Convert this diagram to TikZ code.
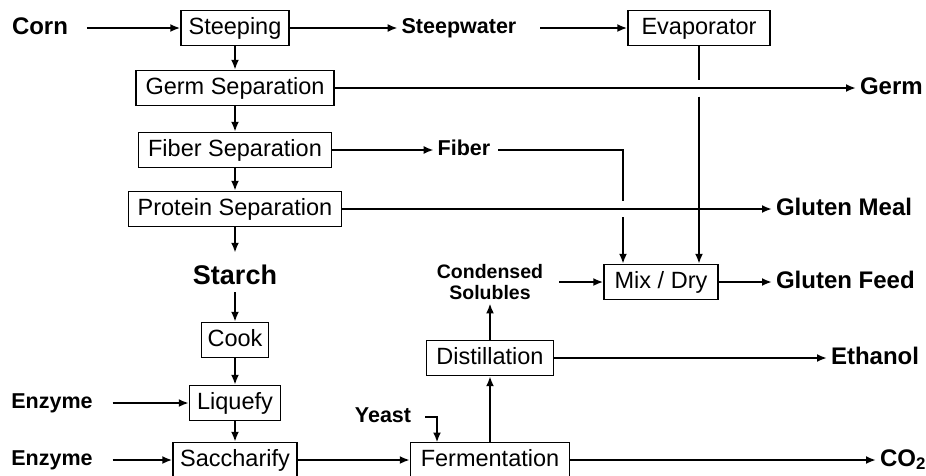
\documentclass[tikz,border=0pt]{standalone}
\usepackage{fontspec}
\setmainfont{Liberation Sans}
\usetikzlibrary{arrows.meta,positioning}

\begin{document}
\begin{tikzpicture}[x=1pt, y=-1pt, line width=2pt, >={Latex[length=10pt,width=8pt]},
        unit/.style={draw, line width=1.4pt, font=\fontsize{23.5}{26}\selectfont, minimum height=35pt, inner xsep=6pt, text height=17pt, text depth=5pt},
        stream/.style={font=\fontsize{24}{26}\selectfont\bfseries, inner sep=3pt, text height=17pt, text depth=5pt},
        feed/.style={font=\fontsize{21.5}{24}\selectfont\bfseries, inner sep=3pt, text height=16pt, text depth=5pt}]
                \useasboundingbox (0,0) rectangle (926,475);

                \node[stream] (corn)         at (40,  28)  {Corn};
                \node[unit, minimum width=108] (steeping)     at (235, 28)  {Steeping};
                \node[feed] (steepwater)     at (459, 28)  {Steepwater};
                \node[unit, minimum width=142] (evaporator)   at (699, 28)  {Evaporator};
                \node[unit, minimum width=198] (germsep)      at (235, 88)  {Germ Separation};
                \node[stream, anchor=west] (germ) at (856, 88) {Germ};
                \node[unit, minimum width=193] (fibersep)     at (235, 150) {Fiber Separation};
                \node[feed] (fiber)          at (464, 150) {Fiber};
                \node[unit, minimum width=213] (proteinsep)   at (235, 209) {Protein Separation};
                \node[stream, anchor=west] (glutenmeal) at (772, 209) {Gluten Meal};
                \node[font=\fontsize{27}{30}\selectfont\bfseries] (starch) at (235, 275) {Starch};
                \node[unit, minimum width=66] (cook)          at (235, 340) {Cook};
                \node[unit, minimum width=91] (liquefy)       at (235, 403) {Liquefy};
                \node[unit, minimum width=124] (saccharify)   at (235, 460) {Saccharify};
                \node[feed] (enzymea)        at (52,  403) {Enzyme};
                \node[feed] (enzymeb)        at (52,  460) {Enzyme};
                \node[feed] (yeast)          at (383, 417) {Yeast};
                \node[unit, minimum width=159] (fermentation) at (490, 460) {Fermentation};
                \node[unit, minimum width=127] (distillation) at (490, 358) {Distillation};
                \node[font=\fontsize{19.5}{20.5}\selectfont\bfseries, align=center, inner sep=3pt] (condensed) at (490, 282) {Condensed\\Solubles};
                \node[unit, minimum width=114] (mixdry)       at (661, 282) {Mix / Dry};
                \node[stream, anchor=west] (glutenfeed) at (772, 282) {Gluten Feed};
                \node[stream, anchor=west] (ethanol) at (827, 358) {Ethanol};
                \node[stream, anchor=west] (co2)     at (876, 460) {CO\textsubscript{2}};

                \coordinate (fiberturn) at (623, 150);
                \coordinate (fibercross) at (fiberturn |- proteinsep);
                \coordinate (evapcross) at (evaporator.south |- germsep);
                \coordinate (yeastin) at (437, 442.5);

                \draw[->, shorten <=15pt] (corn) -- (steeping);
                \draw[->] (steeping) -- (steepwater);
                \draw[->, shorten <=20pt] (steepwater) -- (evaporator);
                \draw[->] (steeping) -- (germsep);
                \draw[->] (germsep) -- (fibersep);
                \draw[->] (fibersep) -- (proteinsep);
                \draw[->, shorten >=8pt] (proteinsep) -- (starch);
                \draw[->, shorten <=3pt] (starch) -- (cook);
                \draw[->] (cook) -- (liquefy);
                \draw[->] (liquefy) -- (saccharify);
                \draw[->, shorten <=16pt] (enzymea) -- (liquefy);
                \draw[->, shorten <=16pt] (enzymeb) -- (saccharify);
                \draw[->] (saccharify) -- (fermentation);
                \draw[->, shorten <=10pt] (yeast) -| (yeastin);
                \draw[->] (fermentation) -- (distillation);
                \draw[->] (distillation) -- (condensed);
                \draw[->, shorten <=12pt] (condensed) -- (mixdry);
                \draw[->] (mixdry) -- (glutenfeed);
                \draw[->] (distillation) -- (ethanol);
                \draw[->] (fermentation) -- (co2);

                \draw[->] (germsep) -- (germ);
                \draw[->] (fibersep) -- (fiber);
                \draw[->] (proteinsep) -- (glutenmeal);
                \draw[shorten >=8.5pt] (evaporator) -- (evapcross);
                \draw[->, shorten <=8.5pt] (evapcross) -- (evapcross |- mixdry.north);
                \draw[shorten <=4pt, shorten >=8pt] (fiber) -- (fiberturn) -- (fibercross);
                \draw[->, shorten <=8pt] (fibercross) -- (fibercross |- mixdry.north);
            \end{tikzpicture}
\end{document}
